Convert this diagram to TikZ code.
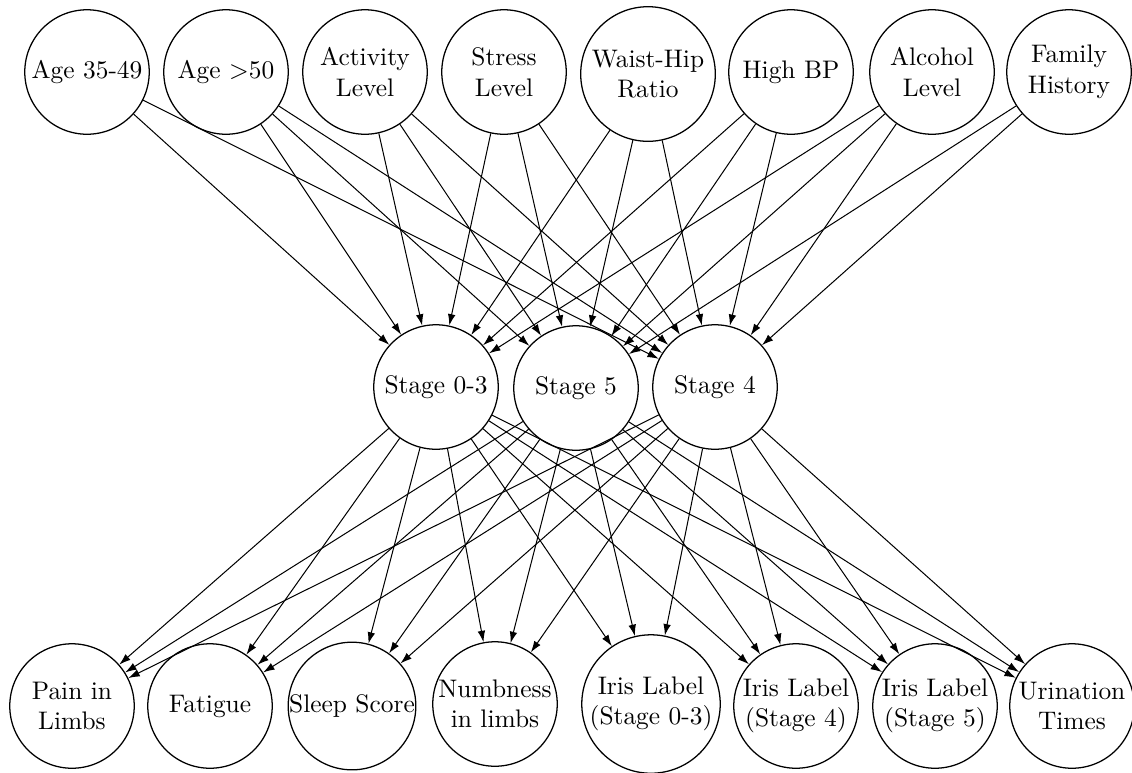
\documentclass[tikz,border=0pt]{standalone}
\usetikzlibrary{arrows.meta}
\begin{document}
\begin{tikzpicture}[x=0.3937pt,y=-0.3937pt,
  bn/.style={circle,draw,line width=0.5pt,inner sep=0pt,minimum size=49pt,align=center},
  edge/.style={-{Latex[length=4.5pt,width=3pt]},line width=0.4pt}]
\useasboundingbox (0,0) rectangle (1132,772);
% top row
\node[bn] (a1) at (87,72) {Age 35-49};
\node[bn] (a2) at (226,72) {Age $>$50};
\node[bn] (act) at (365,72) {Activity\\Level};
\node[bn] (str) at (504,72) {Stress\\Level};
\node[bn,minimum size=53pt] (wh) at (648,74) {Waist-Hip\\Ratio};
\node[bn] (bp) at (791,72) {High BP};
\node[bn] (alc) at (932,72) {Alcohol\\Level};
\node[bn] (fam) at (1069,72) {Family\\History};
% middle row
\node[bn] (s03) at (436,387) {Stage 0-3};
\node[bn] (s5) at (576,388) {Stage 5};
\node[bn] (s4) at (715,387) {Stage 4};
% bottom row
\node[bn] (pain) at (72,706) {Pain in\\Limbs};
\node[bn] (fat) at (210,706) {Fatigue};
\node[bn] (sleep) at (352,706) {Sleep Score};
\node[bn] (numb) at (495,704) {Numbness\\in limbs};
\node[bn,minimum size=54.5pt] (i03) at (651,704) {Iris Label\\(Stage 0-3)};
\node[bn] (i4) at (796,706) {Iris Label\\(Stage 4)};
\node[bn] (i5) at (935,706) {Iris Label\\(Stage 5)};
\node[bn] (ur) at (1072,706) {Urination\\Times};
% top to middle
\foreach \t/\m in {a1/s03,a1/s4,a2/s03,a2/s5,a2/s4,fam/s5,fam/s4}
  \draw[edge] (\t) -- (\m);
\foreach \t in {act,str,wh,bp,alc}
  \foreach \m in {s03,s5,s4}
    \draw[edge] (\t) -- (\m);
% middle to bottom
\foreach \m in {s03,s5,s4}
  \foreach \b in {pain,fat,sleep,numb,i03,i4,i5,ur}
    \draw[edge] (\m) -- (\b);
\end{tikzpicture}
\end{document}
